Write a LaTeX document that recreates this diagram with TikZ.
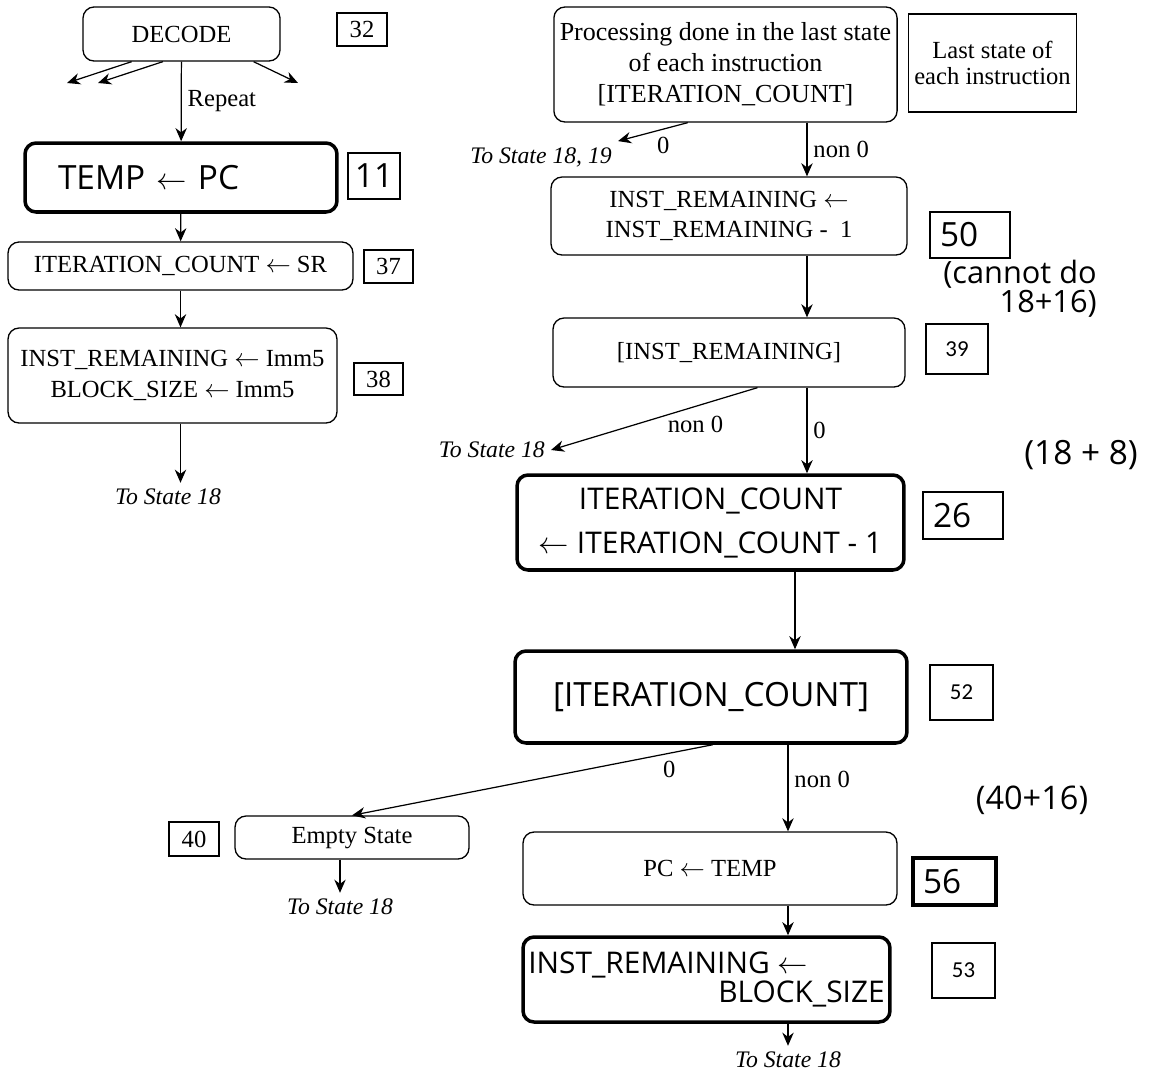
\documentclass[tikz,border=0pt]{standalone}
\usepackage{fontspec}
\setmainfont{Liberation Serif}
\newfontfamily\handfont{Open Sans}
\newfontfamily\numfont{Carlito}
\usepackage{tikz}
\usetikzlibrary{arrows.meta}

\begin{document}
\begin{tikzpicture}[
    x=0.02cm, y=-0.02cm,
    statebox/.style={rectangle, rounded corners=0.22cm, draw, line width=0.75pt, align=center, font=\fontsize{14}{17.5}\selectfont},
    handbox/.style={statebox, line width=2pt, font=\handfont\fontsize{17}{25}\selectfont},
    plainbox/.style={rectangle, draw, line width=0.75pt, align=center, font=\fontsize{14}{15}\selectfont},
    numbox/.style={rectangle, draw, line width=0.65pt, inner sep=0pt, font=\fontsize{14}{16}\selectfont},
    sansnum/.style={numbox, font=\numfont\fontsize{13}{16}\selectfont},
    handnum/.style={numbox, line width=1.6pt, font=\handfont\fontsize{19}{20}\selectfont},
    tolabel/.style={font=\itshape\fontsize{13.5}{16}\selectfont},
    cond/.style={font=\fontsize{14}{16}\selectfont},
    note/.style={font=\handfont\fontsize{18.5}{15}\selectfont, align=right},
    arrow/.style={-{Stealth[length=7.5pt, width=6.5pt]}, line width=0.7pt}
]

% Page
\fill[white] (0,0) rectangle (1150,1073);
\useasboundingbox (0,0) rectangle (1150,1073);

%==============================================================================
% Left column: decode and setup states
%==============================================================================
\node[statebox, minimum width=3.94cm, minimum height=1.08cm] (decode) at (181.5,34) {DECODE};
\node[numbox, minimum width=1cm, minimum height=0.66cm] (n32) at (362,29.5) {32};

\node[handbox, minimum width=6.24cm, minimum height=1.38cm, text width=4.92cm, inner xsep=0.66cm, align=left,
      font=\handfont\fontsize{19}{20}\selectfont] (temp) at (181,177.5) {TEMP $\leftarrow$ PC};
\node[handnum, minimum width=1.04cm, minimum height=0.92cm] (n11) at (374,176) {11};

\node[statebox, minimum width=6.9cm, minimum height=0.96cm] (itc) at (180.5,266) {ITERATION\_COUNT $\leftarrow$ SR};
\node[numbox, minimum width=0.98cm, minimum height=0.66cm] (n37) at (388.5,266.5) {37};

\node[statebox, minimum width=6.58cm, minimum height=1.9cm] (init) at (172.5,375.5) {INST\_REMAINING $\leftarrow$ Imm5\\BLOCK\_SIZE $\leftarrow$ Imm5};
\node[numbox, minimum width=0.98cm, minimum height=0.64cm] (n38) at (378.5,379) {38};

\node[tolabel] (to18a) at (168,497) {To State 18};

% Other decode exits
\coordinate (dl1) at (67,83);
\coordinate (dl2) at (98,83);
\coordinate (dr1) at (298,83);

% Arrows
\draw[arrow] (decode) -- node[cond, midway, right] {Repeat} (temp);
\draw[arrow] (decode.209) -- (dl1);
\draw[arrow] (decode.236) -- (dl2);
\draw[arrow] (decode.339) -- (dr1);
\draw[arrow] (temp) -- (itc);
\draw[arrow] (itc.south) -- (itc.south |- init.north);
\draw[arrow] (itc.south |- init.south) -- (itc.south |- to18a.north);

%==============================================================================
% Right column: end of each instruction
%==============================================================================
\node[statebox, minimum width=6.86cm, minimum height=2.3cm, font=\fontsize{14.8}{17.6}\selectfont] (proc) at (725.5,64.5)
    {Processing done in the last state\\of each instruction\\{[}ITERATION\_COUNT{]}};
\node[plainbox, minimum width=3.3cm, minimum height=1.96cm] (last) at (992.5,63) {Last state of\\each instruction};

\node[tolabel, anchor=east] (to1819) at (618,157) {To State 18, 19};

\node[statebox, minimum width=7.12cm, minimum height=1.56cm] (dec) at (729,216) {INST\_REMAINING $\leftarrow$\\INST\_REMAINING -\ \ 1};
\node[handnum, minimum width=1.6cm, minimum height=0.92cm, text width=1.2cm, inner xsep=0.2cm, align=left] (n50) at (970,235) {50};
\node[note, font=\handfont\fontsize{17.5}{14}\selectfont] (cannot) at (1020,289) {(cannot do\\18+16)};

\node[statebox, minimum width=7.04cm, minimum height=1.38cm] (chkir) at (729,352.5) {{[}INST\_REMAINING{]}};
\node[sansnum, minimum width=1.24cm, minimum height=1cm] (n39) at (957,349) {39};

\node[tolabel, anchor=east] (to18b) at (551,450) {To State 18};
\node[note, font=\handfont\fontsize{19}{20}\selectfont] (eightb) at (1081,455) {(18 + 8)};

\node[handbox, minimum width=7.74cm, minimum height=1.9cm] (decit) at (710.5,522.5) {ITERATION\_COUNT\\$\leftarrow$ ITERATION\_COUNT - 1};
\node[handnum, line width=1.2pt, minimum width=1.6cm, minimum height=0.94cm, text width=1.2cm, inner xsep=0.2cm, align=left] (n26) at (963,515.5) {26};

\node[handbox, minimum width=7.84cm, minimum height=1.84cm, font=\handfont\fontsize{19}{20}\selectfont] (chkit) at (711,697) {{[}ITERATION\_COUNT{]}};
\node[sansnum, minimum width=1.26cm, minimum height=1.1cm] (n52) at (961.5,692.5) {52};

\node[note] (fortyb) at (1032,800) {(40+16)};

%==============================================================================
% Bottom: empty state and restore
%==============================================================================
\node[statebox, minimum width=4.68cm, minimum height=0.86cm] (empty) at (352,837.5) {Empty State};
\node[numbox, minimum width=1cm, minimum height=0.68cm] (n40) at (194,839) {40};
\node[tolabel] (to18d) at (340,907) {To State 18};

\node[statebox, minimum width=7.48cm, minimum height=1.46cm] (restore) at (710,868.5) {PC $\leftarrow$ TEMP};
\node[handnum, line width=2pt, minimum width=1.66cm, minimum height=0.94cm, text width=1.26cm, inner xsep=0.2cm, align=left] (n56) at (954.5,881.5) {56};

\node[handbox, minimum width=7.34cm, minimum height=1.7cm, inner xsep=0pt, align=left, font=\handfont\fontsize{17}{16}\selectfont] (reload) at (706.5,979.5)
    {INST\_REMAINING $\leftarrow$\\\hspace*{3.8cm}BLOCK\_SIZE};
\node[sansnum, minimum width=1.26cm, minimum height=1.1cm] (n53) at (963.5,970.5) {53};

\node[tolabel] (to18c) at (788,1060) {To State 18};

% Vertical lines of the right column
\coordinate (spineA) at (807,0);
\coordinate (spineB) at (795,0);
\coordinate (spineC) at (788,0);

% Arrows
\draw[arrow] (proc.south -| spineA) -- node[cond, midway, right] {non 0} (dec.north -| spineA);
\draw[arrow] (proc.237) -- node[cond, pos=0.35, below=1pt] {0} (to1819.north east);
\draw[arrow] (dec.south -| spineA) -- (chkir.north -| spineA);
\draw[arrow] (chkir.309) -- node[cond, pos=0.3, below=2pt] {non 0} (to18b.east);
\draw[arrow] (chkir.south -| spineA) -- node[cond, midway, right] {0} (decit.north -| spineA);
\draw[arrow] (decit.south -| spineB) -- (chkit.north -| spineB);
\draw[arrow] (chkit.272) -- node[cond, pos=0.12, below=1pt] {0} (empty.north);
\draw[arrow] (chkit.south -| spineC) -- node[cond, pos=0.4, right] {non 0} (restore.north -| spineC);
\draw[arrow] (restore.south -| spineC) -- (reload.north -| spineC);
\draw[arrow] (reload.south -| to18c) -- (to18c.north);
\draw[arrow] (empty.south -| to18d) -- (to18d.north);

\end{tikzpicture}
\end{document}
